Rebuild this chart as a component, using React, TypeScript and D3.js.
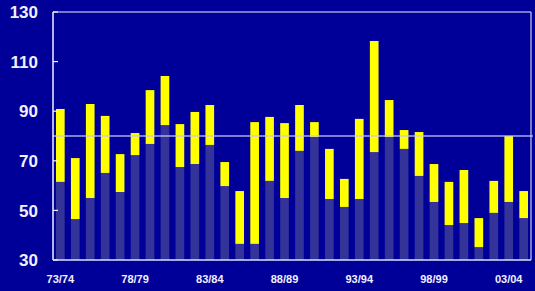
import React from 'react'
import {scaleBand, scaleLinear} from 'd3'

const width = 535
const height = 291
const margin = {top: 12, right: 4, bottom: 31, left: 53}

// seasons 73/74 .. 04/05
const seasons = [
  '73/74', '74/75', '75/76', '76/77', '77/78', '78/79', '79/80', '80/81',
  '81/82', '82/83', '83/84', '84/85', '85/86', '86/87', '87/88', '88/89',
  '89/90', '90/91', '91/92', '92/93', '93/94', '94/95', '95/96', '96/97',
  '97/98', '98/99', '99/00', '00/01', '01/02', '02/03', '03/04', '04/05',
]
// lower (blue) part of each bar
const baseValues = [
  61.5, 46.5, 55, 65.1, 57.4, 72.3, 76.8, 84.4,
  67.5, 68.7, 76.4, 59.8, 36.5, 36.5, 61.9, 55,
  74, 79.6, 54.6, 51.4, 54.6, 73.5, 79.6, 74.8,
  63.9, 53.4, 44.1, 44.9, 35.2, 49, 53.4, 46.9,
]
// top of each bar (yellow part ends here)
const totalValues = [
  90.9, 71.1, 92.9, 88.1, 72.7, 81.2, 98.5, 104.2,
  84.8, 89.7, 92.5, 69.5, 57.8, 85.6, 87.7, 85.2,
  92.5, 85.6, 74.8, 62.7, 86.9, 118.3, 94.5, 82.4,
  81.6, 68.7, 61.5, 66.3, 46.9, 61.9, 80, 57.8,
]
const yTicks = [30, 50, 70, 90, 110, 130]
const xLabels = ['73/74', '78/79', '83/84', '88/89', '93/94', '98/99', '03/04']
const refLine = 80

export default function App() {
  const innerW = width - margin.left - margin.right
  const innerH = height - margin.top - margin.bottom

  const xScale = scaleBand()
    .domain(seasons)
    .range([0, innerW])
    .paddingInner(0.42)
    .paddingOuter(0.2)
  const yScale = scaleLinear()
    .domain([30, 130])
    .range([innerH, 0])

  const bw = xScale.bandwidth()
  const lineCol = '#c8c8f0'

  return (
    <svg width={width} height={height} style={{position: 'absolute', left: 0, top: 0}}>
      <rect x={0} y={0} width={width} height={height} fill="#000099" />
      <g transform={`translate(${margin.left},${margin.top})`}>
        {/* frame top + right */}
        <line x1={0} x2={innerW} y1={0} y2={0} stroke={lineCol} strokeWidth={1.5} opacity={0.8} />
        <line x1={innerW} x2={innerW} y1={0} y2={innerH} stroke={lineCol} strokeWidth={1.5} opacity={0.8} />

        {seasons.map((s, i) => (
          <g key={s}>
            <rect
              x={xScale(s)}
              y={yScale(baseValues[i])}
              width={bw}
              height={yScale(30) - yScale(baseValues[i])}
              fill="#333399" />
            <rect
              x={xScale(s)}
              y={yScale(totalValues[i])}
              width={bw}
              height={yScale(baseValues[i]) - yScale(totalValues[i])}
              fill="#ffff00" />
          </g>
        ))}

        <line x1={0} x2={innerW + 2} y1={yScale(refLine)} y2={yScale(refLine)}
          stroke={lineCol} strokeWidth={1.5} opacity={0.85} />

        {/* axes */}
        <line x1={0} x2={0} y1={0} y2={innerH} stroke="#f0f0ff" strokeWidth={1.5} />
        <line x1={0} x2={innerW} y1={innerH} y2={innerH} stroke="#e0e0f8" strokeWidth={1.5} />
        {yTicks.map(t => (
          <g key={t} transform={`translate(0,${yScale(t)})`}>
            <line x1={0} x2={5} stroke="#f0f0ff" strokeWidth={1.2} />
            <text x={-15} dy="0.36em" textAnchor="end" fill="#f0f0ff"
              fontFamily="Liberation Sans, Arial, sans-serif" fontWeight="bold" fontSize={17}>
              {t}
            </text>
          </g>
        ))}
        {xLabels.map(l => (
          <text key={l} x={(xScale(l) as number) + bw / 2} y={innerH + 23} textAnchor="middle"
            fill="#f0f0ff" fontFamily="Liberation Sans, Arial, sans-serif" fontWeight="bold" fontSize={11}>
            {l}
          </text>
        ))}
      </g>
    </svg>
  )
}
